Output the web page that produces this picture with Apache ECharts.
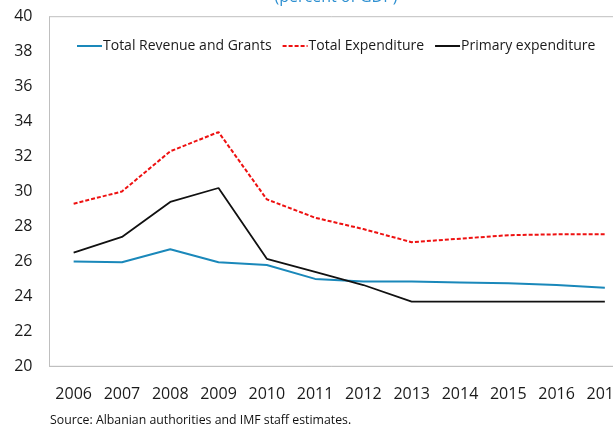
<!DOCTYPE html>
<html>
<head>
<meta charset="utf-8">
<script src="https://cdn.jsdelivr.net/npm/echarts@6/dist/echarts.min.js"></script>
<style>
html,body{margin:0;padding:0;background:#fff;}
#chart{width:613px;height:427px;}
</style>
</head>
<body>
<div id="chart"></div>
<script>
var years = ['2006','2007','2008','2009','2010','2011','2012','2013','2014','2015','2016','2017'];
var revenueGrants = [26.0, 25.95, 26.7, 25.95, 25.8, 25.0, 24.85, 24.85, 24.8, 24.75, 24.65, 24.5];
var totalExpenditure = [29.3, 30.0, 32.3, 33.4, 29.55, 28.5, 27.85, 27.1, 27.3, 27.5, 27.55, 27.55];
var primaryExpenditure = [26.5, 27.4, 29.4, 30.2, 26.15, 25.4, 24.65, 23.7, 23.7, 23.7, 23.7, 23.7];
var seriesNames = ['Total Revenue and Grants', 'Total Expenditure', 'Primary expenditure'];
var titleText = '(percent of GDP)';
var sourceText = 'Source: Albanian authorities and IMF staff estimates.';

var chart = echarts.init(document.getElementById('chart'), null, {renderer: 'canvas'});
chart.setOption({
  animation: false,
  backgroundColor: '#ffffff',
  title: [{
    text: titleText,
    left: 336, textAlign: 'center',
    top: -11, padding: 0,
    textStyle: {fontFamily: 'Open Sans', fontSize: 16, fontWeight: 'normal', color: '#2E90D1'}
  }, {
    text: sourceText,
    left: 50, top: 414, padding: 0,
    textStyle: {fontFamily: 'Open Sans', fontSize: 12.3, fontWeight: 'normal', color: '#111'}
  }],
  legend: {
    left: 76, top: 39, padding: 0,
    itemWidth: 25, itemHeight: 14, itemGap: 10,
    itemStyle: {opacity: 0},
    textStyle: {fontFamily: 'Open Sans', fontSize: 14, color: '#1a1a1a', padding: [0,0,0,-4]},
    data: seriesNames
  },
  grid: {
    left: 49.5, right: -16, top: 16.7, bottom: 60.7,
    outerBoundsMode: 'none',
    show: true, borderColor: '#bfbfbf', borderWidth: 1, containLabel: false
  },
  xAxis: {
    type: 'category', data: years, boundaryGap: true,
    axisLine: {show: true, lineStyle: {color: '#bfbfbf'}},
    axisTick: {show: false},
    axisLabel: {fontFamily: 'Open Sans', fontSize: 16, color: '#1a1a1a', margin: 20, interval: 0}
  },
  yAxis: {
    type: 'value', min: 20, max: 40, interval: 2,
    axisLine: {show: true, lineStyle: {color: '#bfbfbf'}},
    axisTick: {show: false},
    splitLine: {show: false},
    axisLabel: {fontFamily: 'Open Sans', fontSize: 16, color: '#1a1a1a', margin: 17}
  },
  series: [{
    name: seriesNames[0], type: 'line', data: revenueGrants,
    symbol: 'none', lineStyle: {color: '#1A88BA', width: 2}, itemStyle: {color: '#1A88BA'}
  }, {
    name: seriesNames[1], type: 'line', data: totalExpenditure,
    symbol: 'none', lineStyle: {color: '#EE1111', width: 2, type: [4, 2]}, itemStyle: {color: '#EE1111'}
  }, {
    name: seriesNames[2], type: 'line', data: primaryExpenditure,
    symbol: 'none', lineStyle: {color: '#111111', width: 1.8}, itemStyle: {color: '#111111'}
  }]
});
</script>
</body>
</html>
